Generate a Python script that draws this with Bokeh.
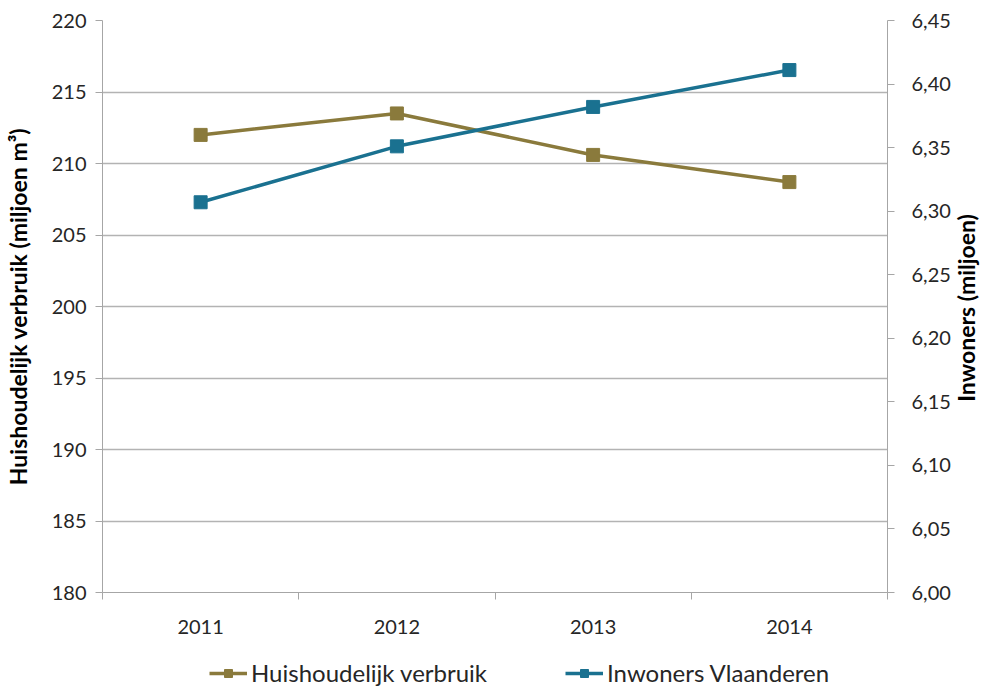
import math
from bokeh.plotting import figure
from bokeh.layouts import column
from bokeh.models import (Range1d, LinearAxis, FixedTicker, CustomJSTickFormatter,
                          Legend, LegendItem)
from bokeh.embed import file_html
from bokeh.resources import INLINE

years = ["2011", "2012", "2013", "2014"]
verbruik = [212.0, 213.5, 210.6, 208.7]
inwoners = [6.307, 6.351, 6.382, 6.411]
left_ticks = [180, 185, 190, 195, 200, 205, 210, 215, 220]
right_ticks = [6.00, 6.05, 6.10, 6.15, 6.20, 6.25, 6.30, 6.35, 6.40, 6.45]
series_names = ["Huishoudelijk verbruik", "Inwoners Vlaanderen"]
left_title = "Huishoudelijk verbruik (miljoen m³)"
right_title = "Inwoners (miljoen)"

GOLD = "#8a7a3c"
BLUE = "#1a7190"
AXIS = "#a6a6a6"
FONT = "Lato"
TEXT = "#262626"

xs = [i + 1 for i in range(len(years))]
bounds = [i + 0.5 for i in range(len(years) + 1)]

W = 997
p = figure(width=W, height=640, output_backend="svg", toolbar_location=None,
           x_range=Range1d(0.5, len(years) + 0.5),
           y_range=Range1d(left_ticks[0], left_ticks[-1]),
           min_border_left=100, min_border_right=104, min_border_top=20,
           min_border_bottom=48)
p.extra_y_ranges = {"right": Range1d(right_ticks[0], right_ticks[-1])}
p.outline_line_color = None
p.background_fill_color = "white"
p.border_fill_color = "white"

# x axis
p.xaxis.ticker = FixedTicker(ticks=xs, minor_ticks=bounds)
p.xaxis.major_label_overrides = {x: y for x, y in zip(xs, years)}
p.xaxis.major_tick_out = 0
p.xaxis.major_tick_in = 0
p.xaxis.minor_tick_out = 7
p.xaxis.minor_tick_in = 0
p.xaxis.minor_tick_line_color = AXIS
p.xaxis.axis_line_color = AXIS
p.xaxis.major_label_standoff = 20
p.xaxis.major_label_text_font = FONT
p.xaxis.major_label_text_font_size = "20px"
p.xaxis.major_label_text_color = TEXT
p.xgrid.visible = False

# left axis
p.yaxis.ticker = FixedTicker(ticks=left_ticks)
p.yaxis.axis_line_color = AXIS
p.yaxis.major_tick_line_color = AXIS
p.yaxis.major_tick_out = 7
p.yaxis.major_tick_in = 0
p.yaxis.minor_tick_line_color = None
p.yaxis.major_label_standoff = 9
p.yaxis.major_label_text_font = FONT
p.yaxis.major_label_text_font_size = "20px"
p.yaxis.major_label_text_color = TEXT
p.yaxis.axis_label = left_title
p.yaxis.axis_label_text_font = FONT
p.yaxis.axis_label_text_font_style = "bold"
p.yaxis.axis_label_text_font_size = "23px"
p.yaxis.axis_label_text_color = "black"
p.yaxis.axis_label_standoff = 17
p.ygrid.ticker = FixedTicker(ticks=left_ticks)
p.ygrid.grid_line_color = "#b3b3b3"
p.ygrid.grid_line_width = 1.3

# right axis (values)
ra = LinearAxis(y_range_name="right", ticker=FixedTicker(ticks=right_ticks),
                formatter=CustomJSTickFormatter(code="return tick.toFixed(2).replace('.', ',');"))
ra.axis_line_color = AXIS
ra.major_tick_line_color = AXIS
ra.major_tick_out = 7
ra.major_tick_in = 0
ra.minor_tick_line_color = None
ra.major_label_standoff = 17
ra.major_label_text_font = FONT
ra.major_label_text_font_size = "20px"
ra.major_label_text_color = TEXT
p.add_layout(ra, "right")

# right axis title, read bottom-to-top like the reference (label anchored at its start)
r_mid = (right_ticks[0] + right_ticks[-1]) / 2
t_title = r_mid - 0.075
rt = LinearAxis(y_range_name="right", ticker=FixedTicker(ticks=[t_title]),
                major_label_overrides={t_title: right_title})
rt.axis_line_color = None
rt.major_tick_line_color = None
rt.minor_tick_line_color = None
rt.major_tick_out = 0
rt.major_tick_in = 0
rt.major_label_standoff = 13
rt.major_label_orientation = math.pi / 2
rt.major_label_text_font = FONT
rt.major_label_text_font_style = "bold"
rt.major_label_text_font_size = "23px"
rt.major_label_text_color = "black"
p.add_layout(rt, "right")

# series
p.line(xs, verbruik, line_color=GOLD, line_width=3.5)
p.scatter(xs, verbruik, marker="square", size=13, fill_color=GOLD, line_color=GOLD)
p.line(xs, inwoners, line_color=BLUE, line_width=3.5, y_range_name="right")
p.scatter(xs, inwoners, marker="square", size=13, fill_color=BLUE, line_color=BLUE,
          y_range_name="right")

# legend strip: a second figure whose ranges lie outside the data, so only the legend shows
lg = figure(width=W, height=49, output_backend="svg", toolbar_location=None,
            x_range=Range1d(-10, -9), y_range=Range1d(-10, -9),
            x_axis_location=None, y_axis_location=None,
            min_border_left=0, min_border_right=0, min_border_top=0, min_border_bottom=0)
lg.grid.visible = False
lg.outline_line_color = None
items = []
for name, col, vals in zip(series_names, [GOLD, BLUE], [verbruik, inwoners]):
    r1 = lg.line(xs, vals, line_color=col, line_width=3.5)
    r2 = lg.scatter(xs, vals, marker="square", size=13, fill_color=col, line_color=col)
    items.append(LegendItem(label=name, renderers=[r1, r2]))
legend = Legend(items=items, orientation="horizontal", location=(107, 2))
legend.border_line_color = None
legend.background_fill_alpha = 0
legend.label_text_font = FONT
legend.label_text_font_size = "24px"
legend.label_text_color = TEXT
legend.glyph_width = 38
legend.label_standoff = 4
legend.spacing = 78
legend.margin = 0
legend.padding = 0
lg.add_layout(legend)

layout = column(p, lg, spacing=0)
open("out.html", "w").write(file_html(layout, INLINE))
